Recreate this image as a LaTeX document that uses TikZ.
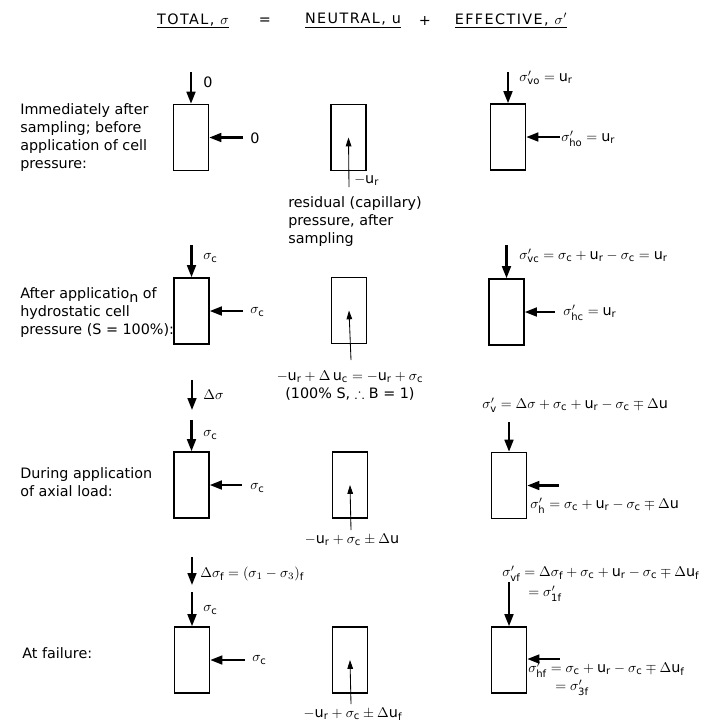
\documentclass[tikz,border=0pt]{standalone}
\usepackage{amssymb}
\usepackage{fontspec}
\setmainfont{DejaVu Sans}
\usetikzlibrary{arrows.meta}
\newcommand{\uu}[1]{\mbox{u}_{\mathrm{#1}}}
\tikzset{
  box/.style={draw, line width=1.1pt, minimum width=0.875cm, minimum height=1.65cm, inner sep=0pt},
  load/.style={line width=1.5pt, -{Triangle[length=3mm,width=2.2mm]}},
  pore/.style={line width=0.6pt, -{Triangle[length=2.2mm,width=1.4mm]}},
  lbl/.style={anchor=west, inner sep=0pt},
  head/.style={inner sep=0pt, font=\fontsize{10.2}{12.8}\selectfont\addfontfeature{LetterSpace=10}},
}
\begin{document}
\begin{tikzpicture}[x=0.025cm, y=-0.025cm, font=\fontsize{10.2}{12.8}\selectfont]
	\useasboundingbox (0,0) rectangle (720,725);
	% headings
	\node[head] (total) at (193,21) {\underline{TOTAL, $\sigma$}};
	\node[head] (eq) at (265,21) {=};
	\node[head] (neutral) at (353,21) {\underline{NEUTRAL, u}};
	\node[head] (plus) at (425,21) {+};
	\node[head] (effective) at (511,21) {\underline{EFFECTIVE, $\sigma'$}};
	% immediately after sampling
	\node[lbl, align=left] (txt1) at (20,138) {Immediately after\\sampling; before\\application of cell\\pressure:};
	\node[box] (tot1) at (191,137.5) {};
	\coordinate (tv1) at (191,72);
	\coordinate (th1) at (243,137.5);
	\draw[load] (tv1) -- (tot1.north);
	\draw[load] (th1) -- (tot1.east);
	\node[lbl] (tvl1) at (203,82) {0};
	\node[lbl] (thl1) at (250,138) {0};
	\node[box] (neu1) at (348.5,137.5) {};
	\coordinate (nb1) at (349,187);
	\draw[pore] (nb1) -- (neu1.center);
	\node[lbl] (nl1) at (354,180) {$-\uu{r}$};
	\node[lbl, align=left] (res1) at (288,222) {residual (capillary)\\pressure, after\\sampling};
	\node[box] (eff1) at (508,137) {};
	\coordinate (ev1) at (508,72);
	\coordinate (eh1) at (560,137);
	\draw[load] (ev1) -- (eff1.north);
	\draw[load] (eh1) -- (eff1.east);
	\node[lbl] (evl1) at (519,78) {$\sigma'_{\mathrm{vo}} = \uu{r}$};
	\node[lbl] (ehl1) at (561,139) {$\sigma'_{\mathrm{ho}} = \uu{r}$};
	% after cell pressure
	\node[lbl, align=left] (txt2) at (20,313) {After applicatio\raisebox{-0.4ex}{n} of\\hydrostatic cell\\pressure (S = 100\%):};
	\node[box] (tot2) at (191.5,311) {};
	\coordinate (tv2) at (191.5,245);
	\coordinate (th2) at (243,311);
	\draw[load] (tv2) -- (tot2.north);
	\draw[load] (th2) -- (tot2.east);
	\node[lbl] (tvl2) at (203,258) {$\sigma_{\mathrm c}$};
	\node[lbl] (thl2) at (250,312) {$\sigma_{\mathrm c}$};
	\node[box] (neu2) at (349,310.5) {};
	\coordinate (nb2) at (351,360);
	\draw[pore] (nb2) -- (neu2.center);
	\node[align=center, inner sep=0pt] (nl2) at (350,386) {$-\uu{r} + \Delta\,\uu{c} = -\uu{r} + \sigma_{\mathrm c}$\\(100\% S, $\therefore$ B = 1)};
	\node[box] (eff2) at (506.5,312) {};
	\coordinate (ev2) at (506.5,245);
	\coordinate (eh2) at (555,312);
	\draw[load] (ev2) -- (eff2.north);
	\draw[load] (eh2) -- (eff2.east);
	\node[lbl] (evl2) at (519,256) {$\sigma'_{\mathrm{vc}} = \sigma_{\mathrm c} + \uu{r} - \sigma_{\mathrm c} = \uu{r}$};
	\node[lbl] (ehl2) at (563,313) {$\sigma'_{\mathrm{hc}} = \uu{r}$};
	% during axial loading
	\node[lbl, align=left] (txt3) at (20,482) {During application\\of axial load:};
	\coordinate (da3) at (192,380);
	\coordinate (db3) at (192,410);
	\draw[load] (da3) -- (db3);
	\node[lbl] (dl3) at (203,395) {$\Delta\sigma$};
	\node[box] (tot3) at (191.5,485) {};
	\coordinate (tv3) at (191.5,420);
	\coordinate (th3) at (242,485);
	\draw[load] (tv3) -- (tot3.north);
	\draw[load] (th3) -- (tot3.east);
	\node[lbl] (tvl3) at (203,435) {$\sigma_{\mathrm c}$};
	\node[lbl] (thl3) at (250,488) {$\sigma_{\mathrm c}$};
	\node[box] (neu3) at (350,485) {};
	\coordinate (nb3) at (351,530);
	\draw[pore] (nb3) -- (neu3.center);
	\node[inner sep=0pt] (nl3) at (352,540) {$-\uu{r} + \sigma_{\mathrm c} \pm \Delta\mbox{u}$};
	\node[box] (eff3) at (509,485.5) {};
	\coordinate (ev3) at (509,422);
	\coordinate (eh3) at (559,485.5);
	\draw[load] (ev3) -- (eff3.north);
	\draw[load] (eh3) -- (eff3.east);
	\node[lbl] (evl3) at (482,405) {$\sigma'_{\mathrm v} = \Delta\sigma + \sigma_{\mathrm c} + \uu{r} - \sigma_{\mathrm c} \mp \Delta\mbox{u}$};
	\node[lbl] (ehl3) at (530,506) {$\sigma'_{\mathrm h} = \sigma_{\mathrm c} + \uu{r} - \sigma_{\mathrm c} \mp \Delta\mbox{u}$};
	% at failure
	\node[lbl] (txt4) at (22,653) {At failure:};
	\coordinate (da4) at (192,557);
	\coordinate (db4) at (192,585);
	\draw[load] (da4) -- (db4);
	\node[lbl] (dl4) at (200,574) {$\Delta\sigma_{\mathrm f} = (\sigma_1 - \sigma_3)_{\mathrm f}$};
	\node[box] (tot4) at (192,660) {};
	\coordinate (tv4) at (192,592);
	\coordinate (th4) at (245,660);
	\draw[load] (tv4) -- (tot4.north);
	\draw[load] (th4) -- (tot4.east);
	\node[lbl] (tvl4) at (203,610) {$\sigma_{\mathrm c}$};
	\node[lbl] (thl4) at (252,660) {$\sigma_{\mathrm c}$};
	\node[box] (neu4) at (350,660) {};
	\coordinate (nb4) at (351,704);
	\draw[pore] (nb4) -- (neu4.center);
	\node[inner sep=0pt] (nl4) at (353,714) {$-\uu{r} + \sigma_{\mathrm c} \pm \Delta\uu{f}$};
	\node[box] (eff4) at (509,660) {};
	\coordinate (ev4) at (509,582);
	\coordinate (eh4) at (560,659);
	\draw[load] (ev4) -- (eff4.north);
	\draw[load] (eh4) -- (eff4.east |- eh4);
	\node[lbl] (evl4) at (502,574) {$\sigma'_{\mathrm{vf}} = \Delta\sigma_{\mathrm f} + \sigma_{\mathrm c} + \uu{r} - \sigma_{\mathrm c} \mp \Delta\uu{f}$};
	\node[lbl] (evm4) at (528,594) {$= \sigma'_{\mathrm{1f}}$};
	\node[lbl] (ehl4) at (528,670) {$\sigma'_{\mathrm{hf}} = \sigma_{\mathrm c} + \uu{r} - \sigma_{\mathrm c} \mp \Delta\uu{f}$};
	\node[lbl] (ehm4) at (555,688) {$= \sigma'_{\mathrm{3f}}$};
\end{tikzpicture}
\end{document}
